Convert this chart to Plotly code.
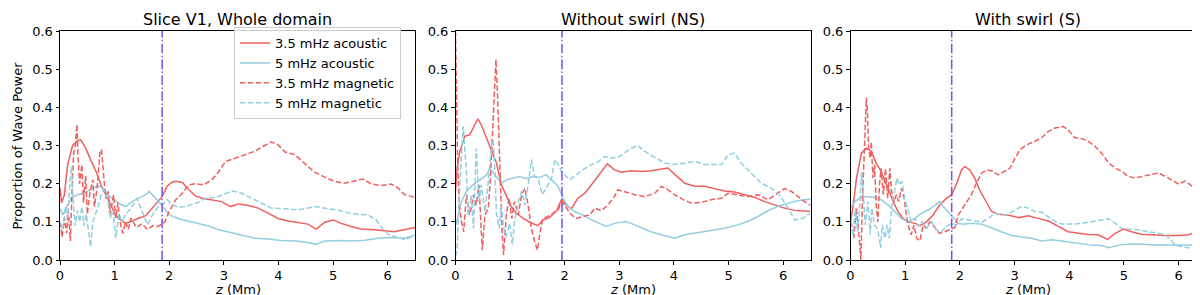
import plotly.graph_objects as go

# ---------------- data ----------------
titles = ["Slice V1, Whole domain", "Without swirl (NS)", "With swirl (S)"]
series_names = ["3.5 mHz acoustic", "5 mHz acoustic", "3.5 mHz magnetic", "5 mHz magnetic"]
vlines = [1.87, 1.95, 1.85]
x_ticks = [0, 1, 2, 3, 4, 5, 6]
y_ticks = [0.0, 0.1, 0.2, 0.3, 0.4, 0.5, 0.6]

# Panel 1 : Slice V1, whole domain
p1_ac35_z = [0, 0.03, 0.08, 0.14, 0.23, 0.32, 0.38, 0.47, 0.56, 0.66, 0.75, 0.84, 0.93, 1.02, 1.11, 1.2, 1.29, 1.41, 1.57, 1.69, 1.78, 1.87, 1.96, 2.05, 2.12, 2.24, 2.36, 2.48, 2.6, 2.78, 2.96, 3.12, 3.27, 3.45, 3.63, 3.81, 4.0, 4.18, 4.36, 4.54, 4.69, 4.85, 5.0, 5.15, 5.33, 5.51, 5.76, 5.94, 6.12, 6.3, 6.5]
p1_ac35_v = [0.19, 0.15, 0.17, 0.25, 0.30, 0.313, 0.315, 0.293, 0.263, 0.232, 0.197, 0.171, 0.144, 0.118, 0.105, 0.096, 0.10, 0.108, 0.116, 0.136, 0.151, 0.166, 0.193, 0.204, 0.206, 0.203, 0.184, 0.168, 0.162, 0.158, 0.153, 0.14, 0.147, 0.143, 0.136, 0.123, 0.108, 0.102, 0.099, 0.094, 0.081, 0.099, 0.105, 0.096, 0.088, 0.081, 0.079, 0.077, 0.074, 0.079, 0.085]
p1_ac5_z = [0, 0.05, 0.2, 0.32, 0.44, 0.56, 0.69, 0.78, 0.87, 0.99, 1.11, 1.2, 1.32, 1.44, 1.57, 1.63, 1.72, 1.81, 1.9, 2.0, 2.17, 2.36, 2.54, 2.72, 2.91, 3.09, 3.27, 3.45, 3.57, 3.81, 4.05, 4.3, 4.54, 4.69, 4.85, 5.09, 5.33, 5.58, 5.82, 6.06, 6.3, 6.5]
p1_ac5_v = [0.135, 0.118, 0.162, 0.171, 0.175, 0.184, 0.195, 0.188, 0.171, 0.158, 0.146, 0.14, 0.153, 0.162, 0.171, 0.18, 0.166, 0.153, 0.136, 0.118, 0.108, 0.102, 0.096, 0.089, 0.079, 0.073, 0.068, 0.063, 0.057, 0.055, 0.051, 0.05, 0.046, 0.041, 0.05, 0.051, 0.05, 0.052, 0.057, 0.059, 0.057, 0.064]
p1_mg35_z = [0, 0.04, 0.08, 0.12, 0.15, 0.19, 0.22, 0.25, 0.28, 0.31, 0.33, 0.36, 0.4, 0.43, 0.47, 0.5, 0.55, 0.6, 0.63, 0.68, 0.73, 0.76, 0.8, 0.84, 0.88, 0.92, 0.98, 1.02, 1.06, 1.1, 1.15, 1.2, 1.25, 1.3, 1.4, 1.5, 1.6, 1.7, 1.8, 1.87, 1.92, 2.0, 2.12, 2.24, 2.36, 2.48, 2.63, 2.78, 2.91, 3.03, 3.21, 3.39, 3.57, 3.72, 3.87, 3.99, 4.12, 4.3, 4.48, 4.66, 4.85, 5.03, 5.21, 5.39, 5.55, 5.7, 5.88, 6.06, 6.18, 6.3, 6.5]
p1_mg35_v = [0.10, 0.06, 0.11, 0.07, 0.13, 0.05, 0.18, 0.28, 0.30, 0.355, 0.27, 0.20, 0.25, 0.15, 0.22, 0.12, 0.18, 0.21, 0.14, 0.19, 0.28, 0.29, 0.22, 0.16, 0.18, 0.12, 0.17, 0.11, 0.15, 0.10, 0.07, 0.10, 0.08, 0.11, 0.085, 0.095, 0.08, 0.09, 0.088, 0.095, 0.10, 0.127, 0.158, 0.175, 0.197, 0.20, 0.197, 0.21, 0.232, 0.258, 0.267, 0.274, 0.285, 0.298, 0.309, 0.302, 0.283, 0.276, 0.254, 0.23, 0.217, 0.206, 0.201, 0.206, 0.212, 0.199, 0.195, 0.199, 0.19, 0.172, 0.164]
p1_mg5_z = [0, 0.05, 0.1, 0.14, 0.18, 0.21, 0.24, 0.28, 0.32, 0.36, 0.4, 0.44, 0.48, 0.52, 0.56, 0.6, 0.65, 0.7, 0.75, 0.8, 0.87, 0.92, 0.97, 1.02, 1.08, 1.14, 1.2, 1.3, 1.41, 1.5, 1.6, 1.7, 1.8, 1.87, 1.96, 2.05, 2.17, 2.36, 2.54, 2.66, 2.85, 3.0, 3.15, 3.33, 3.51, 3.69, 3.87, 4.12, 4.36, 4.54, 4.69, 4.91, 5.09, 5.27, 5.45, 5.64, 5.79, 5.91, 6.03, 6.18, 6.33, 6.5]
p1_mg5_v = [0.10, 0.08, 0.14, 0.11, 0.20, 0.245, 0.16, 0.09, 0.13, 0.10, 0.14, 0.09, 0.12, 0.08, 0.035, 0.10, 0.12, 0.14, 0.17, 0.184, 0.16, 0.11, 0.13, 0.057, 0.12, 0.10, 0.12, 0.135, 0.162, 0.13, 0.092, 0.12, 0.14, 0.144, 0.158, 0.146, 0.137, 0.143, 0.151, 0.162, 0.164, 0.172, 0.181, 0.175, 0.162, 0.149, 0.136, 0.134, 0.131, 0.136, 0.14, 0.134, 0.131, 0.124, 0.12, 0.118, 0.105, 0.081, 0.066, 0.059, 0.053, 0.066]

# Panel 2 : Without swirl (NS)
p2_ac35_z = [0, 0.03, 0.08, 0.17, 0.26, 0.35, 0.41, 0.47, 0.57, 0.66, 0.75, 0.84, 0.93, 1.02, 1.11, 1.24, 1.36, 1.51, 1.6, 1.72, 1.85, 1.94, 2.03, 2.12, 2.24, 2.37, 2.49, 2.61, 2.78, 2.91, 3.04, 3.22, 3.4, 3.58, 3.77, 3.89, 4.01, 4.2, 4.38, 4.56, 4.74, 4.93, 5.11, 5.29, 5.48, 5.66, 5.84, 6.02, 6.21, 6.39, 6.5]
p2_ac35_v = [0.18, 0.241, 0.285, 0.324, 0.328, 0.355, 0.37, 0.355, 0.32, 0.289, 0.254, 0.197, 0.166, 0.14, 0.123, 0.109, 0.099, 0.09, 0.105, 0.111, 0.129, 0.158, 0.144, 0.134, 0.162, 0.175, 0.197, 0.219, 0.252, 0.236, 0.23, 0.234, 0.232, 0.234, 0.238, 0.241, 0.225, 0.201, 0.193, 0.193, 0.187, 0.181, 0.178, 0.171, 0.164, 0.153, 0.144, 0.136, 0.13, 0.127, 0.127]
p2_ac5_z = [0, 0.04, 0.1, 0.2, 0.32, 0.44, 0.57, 0.63, 0.75, 0.84, 0.93, 1.05, 1.18, 1.3, 1.42, 1.54, 1.66, 1.79, 1.88, 1.97, 2.06, 2.18, 2.3, 2.49, 2.64, 2.76, 2.91, 3.1, 3.22, 3.4, 3.58, 3.77, 4.01, 4.2, 4.44, 4.68, 4.93, 5.17, 5.35, 5.54, 5.72, 5.9, 6.09, 6.27, 6.5]
p2_ac5_v = [0.09, 0.11, 0.15, 0.18, 0.197, 0.21, 0.223, 0.24, 0.219, 0.201, 0.21, 0.215, 0.219, 0.213, 0.219, 0.216, 0.223, 0.206, 0.193, 0.162, 0.14, 0.127, 0.12, 0.105, 0.096, 0.088, 0.096, 0.101, 0.096, 0.085, 0.074, 0.066, 0.057, 0.066, 0.072, 0.076, 0.083, 0.092, 0.101, 0.114, 0.129, 0.14, 0.149, 0.155, 0.16]
p2_mg35_z = [0, 0.02, 0.04, 0.07, 0.11, 0.15, 0.2, 0.25, 0.29, 0.33, 0.38, 0.43, 0.49, 0.54, 0.6, 0.64, 0.68, 0.71, 0.74, 0.77, 0.81, 0.85, 0.88, 0.93, 0.98, 1.03, 1.08, 1.15, 1.21, 1.27, 1.33, 1.39, 1.45, 1.5, 1.54, 1.6, 1.69, 1.79, 1.88, 1.94, 2.0, 2.09, 2.21, 2.33, 2.46, 2.55, 2.67, 2.79, 2.91, 2.97, 3.1, 3.28, 3.46, 3.65, 3.77, 3.89, 4.01, 4.17, 4.32, 4.5, 4.68, 4.87, 4.99, 5.17, 5.35, 5.54, 5.72, 5.9, 6.02, 6.15, 6.27, 6.39, 6.5]
p2_mg35_v = [0.6, 0.4, 0.25, 0.144, 0.10, 0.074, 0.17, 0.118, 0.136, 0.171, 0.144, 0.197, 0.026, 0.118, 0.136, 0.215, 0.346, 0.46, 0.525, 0.433, 0.232, 0.083, 0.013, 0.118, 0.162, 0.109, 0.153, 0.118, 0.171, 0.188, 0.144, 0.083, 0.048, 0.026, 0.066, 0.109, 0.114, 0.123, 0.131, 0.153, 0.144, 0.123, 0.109, 0.114, 0.118, 0.136, 0.129, 0.144, 0.166, 0.184, 0.178, 0.171, 0.166, 0.175, 0.193, 0.184, 0.171, 0.158, 0.149, 0.151, 0.158, 0.162, 0.175, 0.171, 0.166, 0.171, 0.158, 0.175, 0.187, 0.18, 0.166, 0.153, 0.144]
p2_mg5_z = [0, 0.03, 0.08, 0.14, 0.2, 0.23, 0.29, 0.33, 0.38, 0.43, 0.47, 0.54, 0.6, 0.66, 0.69, 0.72, 0.75, 0.8, 0.84, 0.88, 0.93, 0.99, 1.04, 1.08, 1.15, 1.21, 1.27, 1.33, 1.39, 1.45, 1.51, 1.59, 1.66, 1.76, 1.82, 1.88, 1.94, 2.03, 2.09, 2.21, 2.33, 2.49, 2.61, 2.73, 2.85, 2.98, 3.1, 3.22, 3.34, 3.46, 3.65, 3.83, 4.01, 4.2, 4.38, 4.56, 4.74, 4.87, 4.99, 5.11, 5.23, 5.42, 5.6, 5.78, 5.93, 6.09, 6.21, 6.36, 6.5]
p2_mg5_v = [0.01, 0.03, 0.2, 0.35, 0.23, 0.12, 0.17, 0.083, 0.293, 0.153, 0.197, 0.127, 0.206, 0.302, 0.315, 0.24, 0.12, 0.083, 0.144, 0.083, 0.061, 0.096, 0.04, 0.10, 0.153, 0.18, 0.144, 0.197, 0.263, 0.219, 0.215, 0.171, 0.188, 0.215, 0.263, 0.25, 0.232, 0.219, 0.21, 0.223, 0.236, 0.25, 0.258, 0.271, 0.267, 0.269, 0.28, 0.293, 0.30, 0.285, 0.269, 0.254, 0.25, 0.254, 0.258, 0.25, 0.251, 0.25, 0.276, 0.28, 0.254, 0.228, 0.201, 0.188, 0.171, 0.136, 0.105, 0.109, 0.123]

# Panel 3 : With swirl (S)
p3_ac35_z = [0, 0.05, 0.11, 0.2, 0.29, 0.38, 0.47, 0.56, 0.63, 0.69, 0.78, 0.87, 0.96, 1.05, 1.18, 1.27, 1.39, 1.51, 1.63, 1.76, 1.85, 1.94, 2.03, 2.09, 2.18, 2.27, 2.36, 2.46, 2.58, 2.7, 2.88, 3.07, 3.25, 3.43, 3.62, 3.8, 3.98, 4.17, 4.35, 4.53, 4.7, 4.84, 4.99, 5.14, 5.33, 5.51, 5.75, 6.0, 6.18, 6.33, 6.5]
p3_ac35_v = [0.10, 0.144, 0.215, 0.28, 0.293, 0.285, 0.254, 0.232, 0.206, 0.188, 0.153, 0.127, 0.109, 0.10, 0.096, 0.09, 0.10, 0.118, 0.144, 0.162, 0.171, 0.20, 0.236, 0.245, 0.236, 0.215, 0.184, 0.158, 0.127, 0.12, 0.118, 0.111, 0.116, 0.109, 0.102, 0.088, 0.074, 0.07, 0.067, 0.066, 0.054, 0.07, 0.081, 0.074, 0.067, 0.066, 0.064, 0.064, 0.066, 0.074, 0.073]
p3_ac5_z = [0, 0.08, 0.2, 0.32, 0.44, 0.56, 0.69, 0.81, 0.93, 1.05, 1.18, 1.3, 1.42, 1.54, 1.63, 1.72, 1.85, 1.97, 2.06, 2.21, 2.4, 2.58, 2.76, 2.95, 3.13, 3.31, 3.5, 3.68, 3.86, 4.05, 4.23, 4.41, 4.59, 4.72, 4.9, 5.08, 5.33, 5.57, 5.82, 6.06, 6.3, 6.5]
p3_ac5_v = [0.136, 0.153, 0.166, 0.166, 0.164, 0.158, 0.144, 0.127, 0.109, 0.10, 0.109, 0.123, 0.131, 0.143, 0.153, 0.136, 0.114, 0.096, 0.094, 0.096, 0.094, 0.083, 0.074, 0.064, 0.061, 0.057, 0.05, 0.053, 0.05, 0.046, 0.044, 0.039, 0.038, 0.032, 0.039, 0.042, 0.041, 0.039, 0.039, 0.039, 0.038, 0.039]
p3_mg35_z = [0, 0.02, 0.06, 0.11, 0.15, 0.19, 0.22, 0.26, 0.29, 0.31, 0.33, 0.36, 0.38, 0.41, 0.44, 0.47, 0.5, 0.53, 0.56, 0.6, 0.64, 0.68, 0.72, 0.75, 0.8, 0.84, 0.88, 0.93, 0.98, 1.02, 1.07, 1.11, 1.16, 1.21, 1.27, 1.33, 1.39, 1.45, 1.51, 1.57, 1.63, 1.72, 1.82, 1.91, 1.97, 2.09, 2.21, 2.3, 2.4, 2.49, 2.58, 2.7, 2.82, 2.92, 3.01, 3.1, 3.22, 3.37, 3.5, 3.62, 3.74, 3.89, 3.98, 4.1, 4.23, 4.35, 4.47, 4.59, 4.72, 4.84, 4.96, 5.08, 5.2, 5.33, 5.45, 5.63, 5.81, 6.0, 6.12, 6.25, 6.37, 6.5]
p3_mg35_v = [0.10, 0.092, 0.057, 0.136, 0.074, 0.0, 0.162, 0.337, 0.425, 0.39, 0.293, 0.267, 0.31, 0.215, 0.25, 0.144, 0.10, 0.197, 0.24, 0.171, 0.24, 0.162, 0.24, 0.18, 0.153, 0.171, 0.153, 0.188, 0.162, 0.118, 0.083, 0.066, 0.092, 0.057, 0.05, 0.092, 0.083, 0.10, 0.092, 0.079, 0.07, 0.074, 0.079, 0.085, 0.118, 0.144, 0.171, 0.201, 0.228, 0.236, 0.234, 0.223, 0.232, 0.241, 0.267, 0.289, 0.302, 0.311, 0.321, 0.337, 0.346, 0.35, 0.341, 0.321, 0.318, 0.311, 0.298, 0.28, 0.254, 0.241, 0.232, 0.219, 0.215, 0.219, 0.223, 0.228, 0.215, 0.199, 0.207, 0.193, 0.18, 0.17]
p3_mg5_z = [0, 0.05, 0.09, 0.13, 0.17, 0.2, 0.23, 0.27, 0.32, 0.36, 0.39, 0.44, 0.5, 0.55, 0.58, 0.63, 0.67, 0.71, 0.75, 0.8, 0.85, 0.89, 0.94, 0.99, 1.05, 1.11, 1.18, 1.24, 1.3, 1.39, 1.48, 1.57, 1.66, 1.76, 1.85, 1.94, 2.03, 2.15, 2.27, 2.4, 2.52, 2.64, 2.76, 2.88, 3.01, 3.13, 3.25, 3.37, 3.5, 3.62, 3.74, 3.86, 4.05, 4.23, 4.41, 4.59, 4.72, 4.84, 4.96, 5.08, 5.27, 5.45, 5.63, 5.75, 5.85, 5.94, 6.06, 6.18, 6.3, 6.43, 6.5]
p3_mg5_v = [0.10, 0.066, 0.136, 0.074, 0.144, 0.23, 0.18, 0.092, 0.153, 0.066, 0.136, 0.092, 0.079, 0.031, 0.092, 0.057, 0.092, 0.057, 0.136, 0.18, 0.215, 0.197, 0.206, 0.162, 0.127, 0.10, 0.109, 0.088, 0.10, 0.083, 0.10, 0.079, 0.074, 0.088, 0.096, 0.092, 0.108, 0.105, 0.102, 0.099, 0.109, 0.123, 0.118, 0.12, 0.131, 0.14, 0.136, 0.127, 0.125, 0.114, 0.101, 0.094, 0.094, 0.096, 0.101, 0.105, 0.108, 0.096, 0.083, 0.081, 0.079, 0.074, 0.07, 0.067, 0.053, 0.039, 0.035, 0.032, 0.026, 0.035, 0.045]

panels = [
    [(p1_ac35_z, p1_ac35_v), (p1_ac5_z, p1_ac5_v), (p1_mg35_z, p1_mg35_v), (p1_mg5_z, p1_mg5_v)],
    [(p2_ac35_z, p2_ac35_v), (p2_ac5_z, p2_ac5_v), (p2_mg35_z, p2_mg35_v), (p2_mg5_z, p2_mg5_v)],
    [(p3_ac35_z, p3_ac35_v), (p3_ac5_z, p3_ac5_v), (p3_mg35_z, p3_mg35_v), (p3_mg5_z, p3_mg5_v)],
]

# ---------------- style ----------------
RED = "#F05F5F"
BLUE = "#92CEE0"
VCOL = "#7450E8"
colors = [RED, BLUE, RED, BLUE]
dashes = ["solid", "solid", "5.5px,2.4px", "5.5px,2.4px"]
FONT = "DejaVu Sans"

W, H = 1200, 295
ML, MR, MT, MB = 52, 2, 23, 43
PW = W - ML - MR
PH = H - MT - MB
domains = [
    [0.0, (407 - ML) / PW],
    [(447.5 - ML) / PW, (802.5 - ML) / PW],
    [(842.5 - ML) / PW, 1.0],
]

fig = go.Figure()
for i, series in enumerate(panels):
    xa = "x" if i == 0 else f"x{i+1}"
    ya = "y" if i == 0 else f"y{i+1}"
    for j, (zs, vs) in enumerate(series):
        fig.add_trace(go.Scatter(
            x=zs, y=vs, mode="lines", name=series_names[j],
            line=dict(color=colors[j], width=1.5, dash=dashes[j]),
            xaxis=xa, yaxis=ya, showlegend=(i == 0), legendrank=j + 1,
        ))
    fig.add_trace(go.Scatter(
        x=[vlines[i], vlines[i]], y=[0, 0.6], mode="lines",
        line=dict(color=VCOL, width=1.5, dash="9.6px,2.4px,1.5px,2.4px"),
        xaxis=xa, yaxis=ya, showlegend=False, hoverinfo="skip",
    ))

axis_common = dict(
    showgrid=False, zeroline=False, showline=True, linecolor="black", linewidth=1,
    mirror=True, ticks="outside", ticklen=3.5, tickwidth=1, tickcolor="black",
    tickfont=dict(family=FONT, size=13, color="black"),
)
layout = dict(
    width=W, height=H,
    margin=dict(l=ML, r=MR, t=MT, b=MB),
    plot_bgcolor="white", paper_bgcolor="white",
    font=dict(family=FONT, color="black"),
    showlegend=True,
    legend=dict(
        x=(393 - ML) / PW, xanchor="right", y=1.017, yanchor="top",
        bordercolor="#CCCCCC", borderwidth=1, bgcolor="rgba(255,255,255,0.8)",
        font=dict(family=FONT, size=13, color="black"),
        tracegroupgap=0, itemwidth=30,
    ),
)
annotations = []
for i in range(3):
    xk = "xaxis" if i == 0 else f"xaxis{i+1}"
    yk = "yaxis" if i == 0 else f"yaxis{i+1}"
    xa = "x" if i == 0 else f"x{i+1}"
    layout[xk] = dict(axis_common, domain=domains[i], range=[0, 6.5],
                      tickvals=x_ticks, anchor=("y" if i == 0 else f"y{i+1}"))
    layout[yk] = dict(axis_common, domain=[0, 1], range=[0, 0.6],
                      tickvals=y_ticks, tickformat=".1f",
                      anchor=xa)
    cx = (domains[i][0] + domains[i][1]) / 2
    annotations.append(dict(
        text=titles[i], x=cx, y=1, xref="paper", yref="paper",
        xanchor="center", yanchor="bottom", yshift=0, showarrow=False,
        font=dict(family=FONT, size=16, color="black"),
    ))
    annotations.append(dict(
        text="<i>z</i> (Mm)", x=cx, y=0, xref="paper", yref="paper",
        xanchor="center", yanchor="top", yshift=-20, showarrow=False,
        font=dict(family=FONT, size=13, color="black"),
    ))
annotations.append(dict(
    text="Proportion of Wave Power", x=0, y=0.5, xref="paper", yref="paper",
    xanchor="center", yanchor="middle", xshift=-43, textangle=-90, showarrow=False,
    font=dict(family=FONT, size=13, color="black"),
))
layout["annotations"] = annotations
fig.update_layout(**layout)
fig.write_html("out.html")
